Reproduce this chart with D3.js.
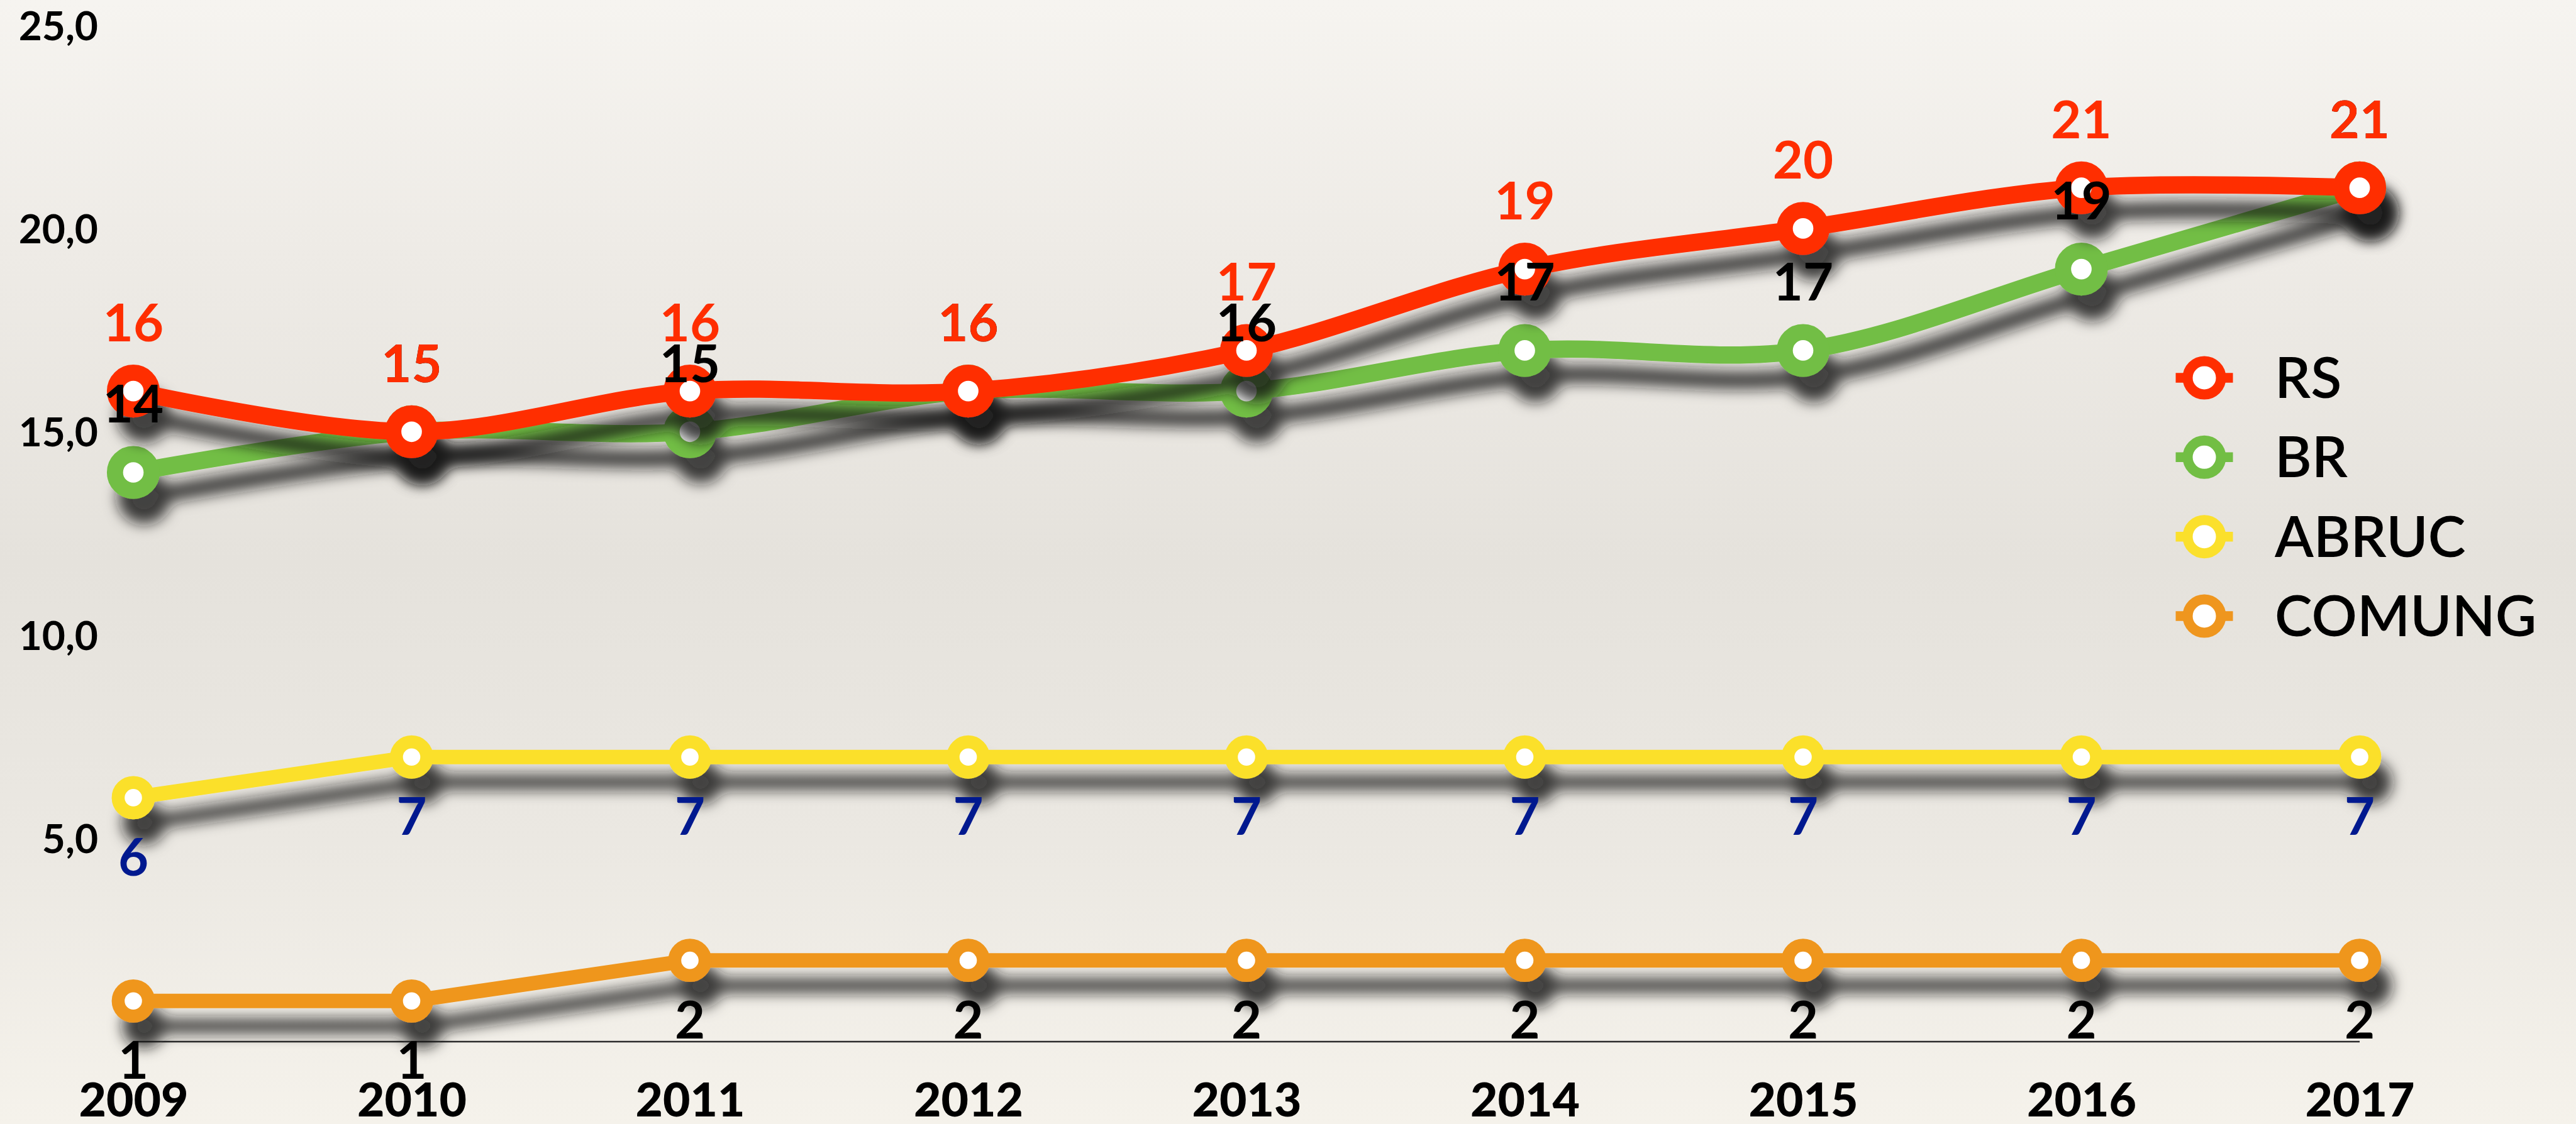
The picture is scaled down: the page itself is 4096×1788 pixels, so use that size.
<!DOCTYPE html>
<html>
<head>
<meta charset="utf-8">
<script src="https://cdn.jsdelivr.net/npm/d3@7"></script>
<style>
  html, body { margin: 0; padding: 0; background: #EFECE7; }
  svg { display: block; }
  text { font-family: "Lato", "Open Sans", sans-serif; }
</style>
</head>
<body>
<svg id="chart" width="4096" height="1788"></svg>
<script>
// ---- data ----
const years = [2009, 2010, 2011, 2012, 2013, 2014, 2015, 2016, 2017];
const seriesNames = ["RS", "BR", "ABRUC", "COMUNG"];
const rsValues     = [16, 15, 16, 16, 17, 19, 20, 21, 21];
const brValues     = [14, 15, 15, 16, 16, 17, 17, 19, 21];
const abrucValues  = [6, 7, 7, 7, 7, 7, 7, 7, 7];
const comungValues = [1, 1, 2, 2, 2, 2, 2, 2, 2];
const yTickValues  = [5, 10, 15, 20, 25];
const yTickLabels  = ["5,0", "10,0", "15,0", "20,0", "25,0"];

// ---- styles ----
const W = 4096, H = 1788;
const svg = d3.select("#chart");

const defs = svg.append("defs");
const bg = defs.append("linearGradient").attr("id", "bg").attr("x1", 0).attr("y1", 0).attr("x2", 0).attr("y2", 1);
[[0, "#F6F4F0"], [0.22, "#EEEBE6"], [0.5, "#E5E2DC"], [0.75, "#EBE8E2"], [1, "#F5F2EB"]]
  .forEach(([o, c]) => bg.append("stop").attr("offset", o).attr("stop-color", c));

const f = defs.append("filter").attr("id", "shadow")
  .attr("x", "-10%").attr("y", "-50%").attr("width", "130%").attr("height", "250%");
f.append("feGaussianBlur").attr("in", "SourceAlpha").attr("stdDeviation", 11).attr("result", "b");
f.append("feOffset").attr("in", "b").attr("dx", 17).attr("dy", 40).attr("result", "o");
f.append("feFlood").attr("flood-color", "#151515").attr("flood-opacity", 0.8);
f.append("feComposite").attr("in2", "o").attr("operator", "in").attr("result", "s");
const m = f.append("feMerge");
m.append("feMergeNode").attr("in", "s");
m.append("feMergeNode").attr("in", "SourceGraphic");

svg.append("rect").attr("width", W).attr("height", H).attr("fill", "url(#bg)");

// ---- scales ----
const x = d3.scalePoint().domain(years).range([212, 3752]);
const y = d3.scaleLinear().domain([0, 25]).range([1657, 40]);

const series = [
  { name: "COMUNG", values: comungValues, color: "#EF961E", lw: 23, r: 24.1, rw: 20.6, curve: d3.curveLinear, labelColor: "#000", below: true },
  { name: "ABRUC",  values: abrucValues,  color: "#FBE02C", lw: 23, r: 24.1, rw: 20.6, curve: d3.curveLinear, labelColor: "#00198F", below: true },
  { name: "BR",     values: brValues,     color: "#72BE44", lw: 27.5, r: 29.2, rw: 25.7, curve: d3.curveCatmullRom, labelColor: "#000", below: false },
  { name: "RS",     values: rsValues,     color: "#FF2E00", lw: 27.5, r: 29.2, rw: 25.7, curve: d3.curveCatmullRom, labelColor: "#FF2E00", below: false }
];

// ---- axes ----
const yAxis = d3.axisLeft(y).tickValues(yTickValues).tickSize(0)
  .tickFormat((d, i) => yTickLabels[i]);
const yG = svg.append("g").attr("transform", "translate(156,0)").call(yAxis);
yG.select(".domain").remove();
yG.selectAll("text").attr("x", 0).attr("dy", "0.36em")
  .style("font-size", "64px").style("font-weight", 700).attr("fill", "#000")
  .style("font-family", "Lato, sans-serif");

const xAxis = d3.axisBottom(x).tickSize(0).tickPadding(0);
const xG = svg.append("g").attr("transform", `translate(0,${y(0)})`).call(xAxis);
xG.select(".domain").attr("stroke", "#2a2a2a").attr("stroke-width", 2.5)
  .attr("d", `M${x(2009)},0H${x(2017)}`);
xG.selectAll("text").attr("y", 119).attr("dy", 0)
  .style("font-size", "75px").style("font-weight", 900).attr("fill", "#000")
  .style("font-family", "Lato, sans-serif");

// ---- lines & markers ----
series.forEach(s => {
  const g = svg.append("g").attr("filter", "url(#shadow)");
  const line = d3.line().x((d, i) => x(years[i])).y(d => y(d)).curve(s.curve);
  g.append("path").attr("d", line(s.values)).attr("fill", "none")
    .attr("stroke", s.color).attr("stroke-width", s.lw).attr("stroke-linecap", "round");
  g.selectAll("circle").data(s.values).join("circle")
    .attr("cx", (d, i) => x(years[i])).attr("cy", d => y(d))
    .attr("r", s.r).attr("fill", "#fff").attr("stroke", s.color).attr("stroke-width", s.rw);
});

// ---- value labels ----
series.forEach(s => {
  svg.append("g").selectAll("text").data(s.values).join("text")
    .attr("x", (d, i) => x(years[i]))
    .attr("y", d => s.below ? y(d) + 124 : y(d) - 79)
    .attr("text-anchor", "middle")
    .attr("fill", s.labelColor)
    .style("font-size", "83px").style("font-weight", 700)
    .text(d => d);
});

// ---- legend ----
const legendColors = { RS: "#FF2E00", BR: "#72BE44", ABRUC: "#FBE02C", COMUNG: "#EF961E" };
const legendY = d3.scalePoint().domain(seriesNames).range([601, 980]);
const lg = svg.append("g");
seriesNames.forEach(n => {
  const cy = legendY(n);
  lg.append("line").attr("x1", 3505 - 45.5).attr("x2", 3505 + 45.5).attr("y1", cy).attr("y2", cy)
    .attr("stroke", legendColors[n]).attr("stroke-width", 15.5);
  lg.append("circle").attr("cx", 3505).attr("cy", cy).attr("r", 26.5)
    .attr("fill", "#fff").attr("stroke", legendColors[n]).attr("stroke-width", 16);
  lg.append("text").attr("x", 3617).attr("y", cy + 32)
    .style("font-size", "90px").style("font-weight", 600).attr("fill", "#000")
    .text(n);
});
</script>
</body>
</html>
